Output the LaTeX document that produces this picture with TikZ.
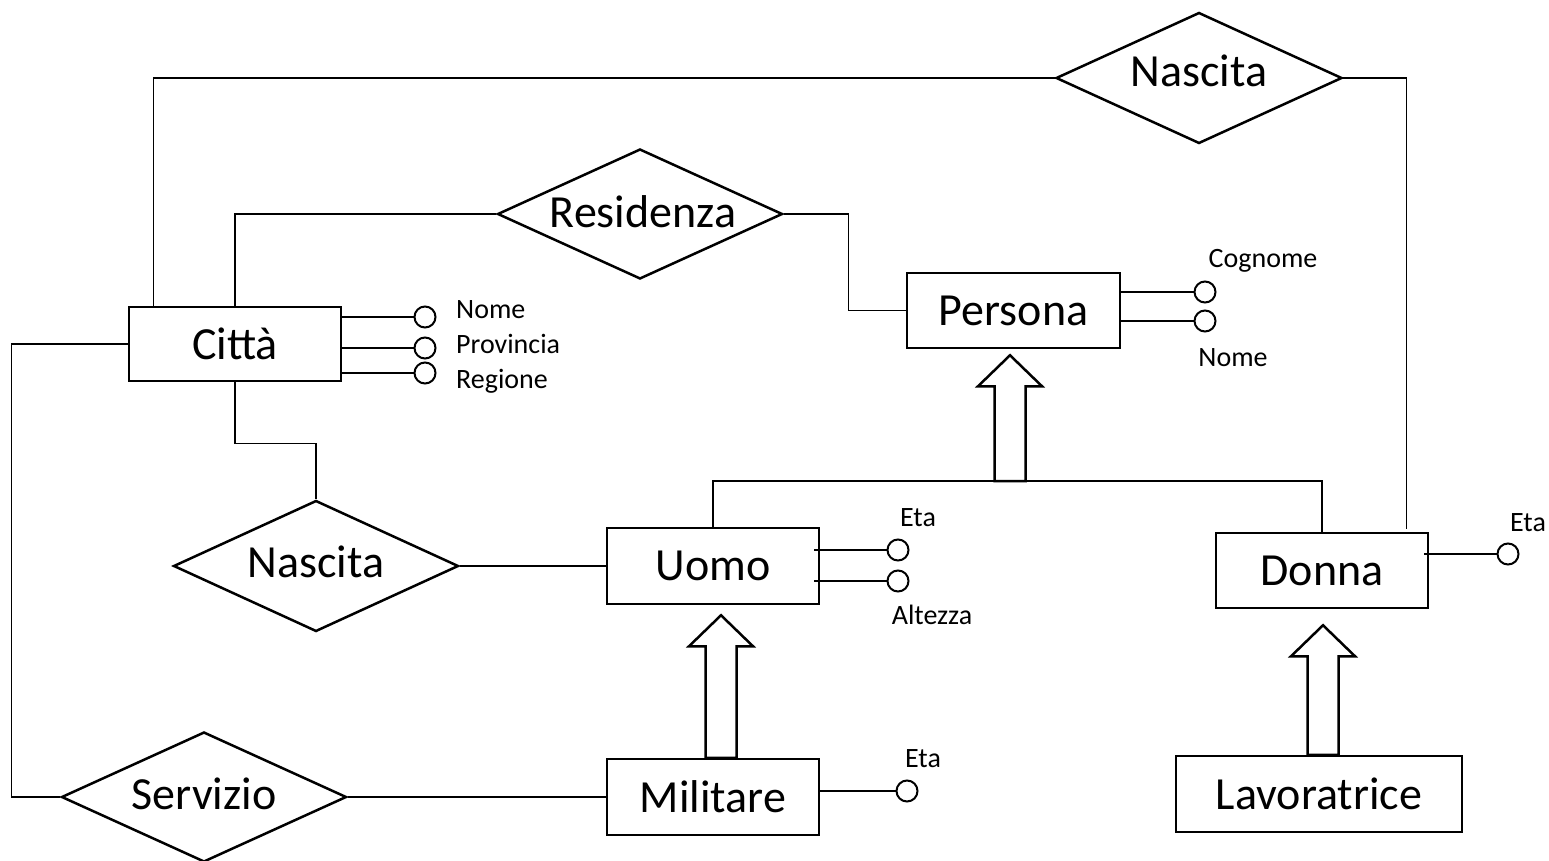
\documentclass[tikz,border=0pt]{standalone}
\usepackage{fontspec}
\setmainfont{Carlito}
\usetikzlibrary{shapes.geometric,calc}

% hollow "is-a" arrow from the base point #1 up to the tip #2
\newcommand\isashape[2]{%
  \draw[isa] let \p1=#1, \p2=#2 in
    (\x2-15.5pt,\y1) -- (\x2-15.5pt,\y2-31pt) -- (\x2-32pt,\y2-31pt) --
    (\x2,\y2) -- (\x2+32pt,\y2-31pt) -- (\x2+15.5pt,\y2-31pt) --
    (\x2+15.5pt,\y1) -- cycle;}

\begin{document}
\begin{tikzpicture}[x=1pt,y=-1pt,
  entity/.style={draw,line width=2.5pt,rectangle,inner sep=0pt,
                 font=\fontsize{46}{50}\selectfont},
  rel/.style={draw,line width=2.5pt,diamond,inner sep=0pt,aspect=2.2,
              minimum width=285pt,minimum height=130pt},
  rlabel/.style={font=\fontsize{46}{50}\selectfont,inner sep=0pt},
  link/.style={line width=1.4pt},
  attr/.style={draw,circle,line width=2pt,minimum size=21pt,inner sep=0pt},
  alabel/.style={font=\fontsize{28}{32}\selectfont,inner sep=0pt},
  isa/.style={line width=2.5pt,line join=miter,fill=white}
]
\useasboundingbox[fill=white] (0,0) rectangle (1549,861);

% entities
\node[entity,minimum width=212pt,minimum height=74pt] (citta) at (235,344) {Città};
\node[entity,minimum width=213pt,minimum height=75pt] (persona) at (1013.5,310.5) {Persona};
\node[entity,minimum width=212pt,minimum height=76pt] (uomo) at (713,566) {Uomo};
\node[entity,minimum width=212pt,minimum height=75pt] (donna) at (1322,570.5) {Donna};
\node[entity,minimum width=212pt,minimum height=76pt] (militare) at (713,797) {Militare};
\node[entity,minimum width=286pt,minimum height=76pt] (lavoratrice) at (1319,794) {Lavoratrice};

% relationships
\node[rel,minimum width=286pt,minimum height=131pt] (nascitaT) at (1199,78) {};
\node[rlabel] (nascitaTlab) at (1199,71) {Nascita};
\node[rel] (residenza) at (640,214) {};
\node[rlabel] (residenzalab) at (643,212) {Residenza};
\node[rel,minimum height=131pt] (nascitaL) at (316,566) {};
\node[rlabel] (nascitaLlab) at (316,562) {Nascita};
\node[rel] (servizio) at (204,797) {};
\node[rlabel] (serviziolab) at (204,794) {Servizio};

% relationship links
\draw[link] (nascitaT.west) -| ($(citta.north west)+(26,0)$);
\draw[link] (nascitaT.east) -| ($(donna.north east)+(-23,-3)$);
\draw[link] (residenza.west) -| (citta.north);
\draw[link] (residenza.east) -- ++(65,0) |- (persona.west);
\draw[link] (citta.south) -- ++(0,61) -| (nascitaL.north);
\draw[link] (nascitaL.east) -- (uomo.west);
\draw[link] (citta.west) -- ++(-116,0) |- (servizio.west);
\draw[link] (servizio.east) -- (militare.west);

% generalisation of Persona
\coordinate (hub) at (1010,481);
\draw[link] (uomo.north) |- (hub) -| (donna.north);
\isashape{(hub)}{($(persona.south)+(-3.5,6)$)}
\isashape{($(militare.north)+(8,0)$)}{($(uomo.south)+(8,10)$)}
\isashape{($(lavoratrice.north)+(4,0)$)}{($(donna.south)+(1,16)$)}

% attributes of Città
\node[attr] (cNome) at (425,317) {};
\node[attr] (cProv) at (425,348) {};
\node[attr] (cReg) at (425,373) {};
\draw[link] (citta.east |- cNome) -- (cNome.west);
\draw[link] (citta.east |- cProv) -- (cProv.west);
\draw[link] (citta.east |- cReg) -- (cReg.west);
\node[alabel,anchor=base west] (lNome) at (456,318) {Nome};
\node[alabel,anchor=base west] (lProv) at (456,353) {Provincia};
\node[alabel,anchor=base west] (lReg) at (456,388) {Regione};

% attributes of Persona
\node[attr] (pCogn) at (1205,292) {};
\node[attr] (pNome) at (1205,321) {};
\draw[link] (persona.east |- pCogn) -- (pCogn.west);
\draw[link] (persona.east |- pNome) -- (pNome.west);
\node[alabel,anchor=base] (lCogn) at (1263,267) {Cognome};
\node[alabel,anchor=base] (lPNome) at (1233,366) {Nome};

% attributes of Uomo
\node[attr] (uEta) at (898,550) {};
\node[attr] (uAlt) at (898,581) {};
\draw[link] ($(uomo.east |- uEta)+(-6,0)$) -- (uEta.west);
\draw[link] ($(uomo.east |- uAlt)+(-6,0)$) -- (uAlt.west);
\node[alabel,anchor=base] (lUEta) at (918,526) {Eta};
\node[alabel,anchor=base] (lUAlt) at (932,624) {Altezza};

% attribute of Militare
\node[attr] (mEta) at (907,791) {};
\draw[link] (militare.east |- mEta) -- (mEta.west);
\node[alabel,anchor=base] (lMEta) at (923,767) {Eta};

% attribute of Donna
\node[attr] (dEta) at (1508,554) {};
\draw[link] ($(donna.east |- dEta)+(-5,0)$) -- (dEta.west);
\node[alabel,anchor=base] (lDEta) at (1528,531) {Eta};

\end{tikzpicture}
\end{document}
